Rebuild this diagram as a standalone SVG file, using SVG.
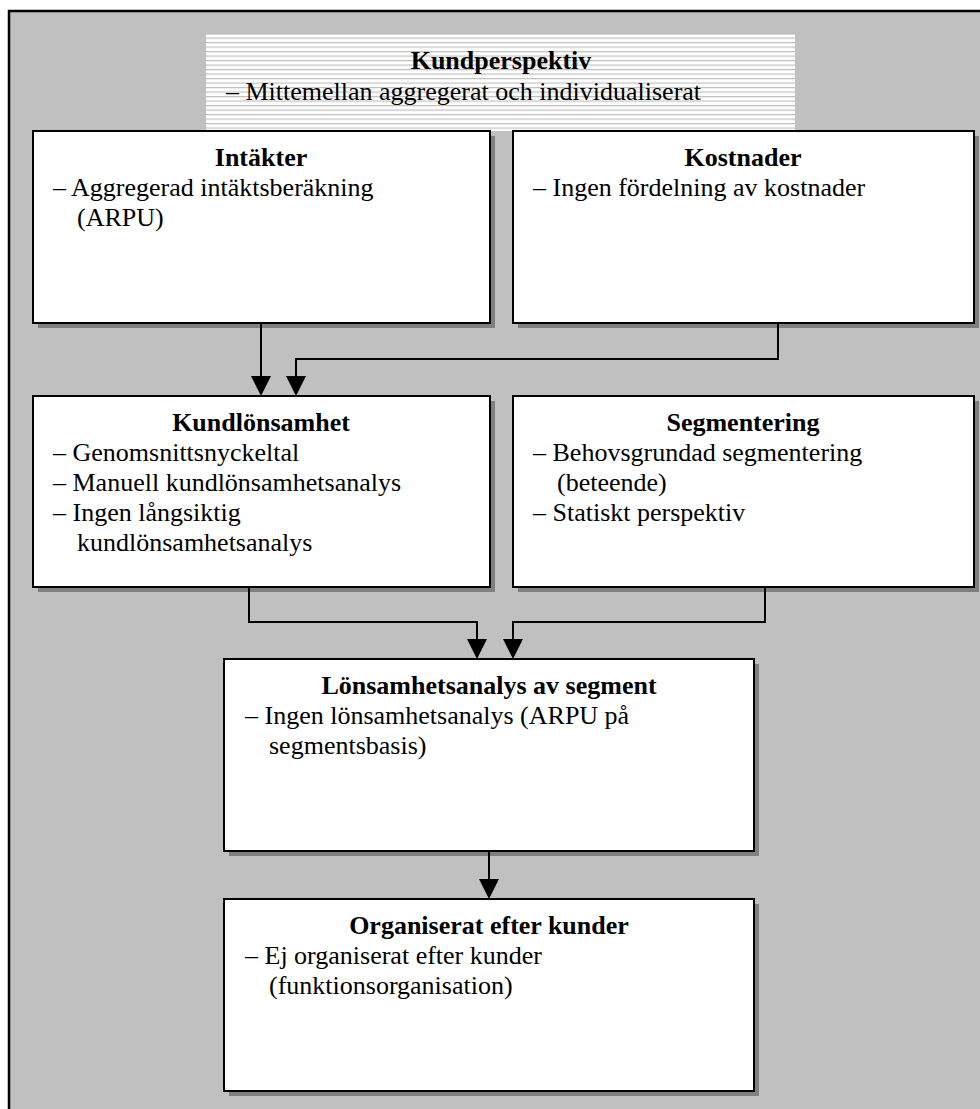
<svg xmlns="http://www.w3.org/2000/svg" width="980" height="1109" viewBox="0 0 980 1109">
  <style>
    .box { fill: #ffffff; stroke: #000000; stroke-width: 2; }
    .shadow { fill: #808080; }
    .title { font-family: "Liberation Serif", "Times New Roman", serif; font-size: 26px; font-weight: bold; text-anchor: middle; fill: #000; }
    .body { font-family: "Liberation Serif", "Times New Roman", serif; font-size: 26px; fill: #000; }
    .wire { fill: none; stroke: #000000; stroke-width: 2; }
  </style>
  <defs>
    <pattern id="stripes" patternUnits="userSpaceOnUse" x="0" y="37.5" width="10" height="4.5">
      <rect x="0" y="0" width="10" height="4.5" fill="#ffffff"/>
      <rect x="0" y="0" width="10" height="1.2" fill="#c0c0c0"/>
    </pattern>
    <marker id="arrow" markerUnits="userSpaceOnUse" markerWidth="20" markerHeight="20" refX="10" refY="20" orient="auto-start-reverse" viewBox="0 0 20 20">
      <path d="M0,0 L20,0 L10,20 Z" fill="#000"/>
    </marker>
  </defs>

  <!-- background frame -->
  <rect x="0" y="0" width="980" height="1109" fill="#ffffff"/>
  <rect x="9" y="11" width="1000" height="1120" fill="#c0c0c0" stroke="#000" stroke-width="2.5"/>

  <!-- header band -->
  <g id="kundperspektiv">
    <rect x="206" y="34.5" width="589" height="96.5" fill="url(#stripes)"/>
    <text class="title" x="501" y="69">Kundperspektiv</text>
    <text class="body" x="226" y="100">– Mittemellan aggregerat och individualiserat</text>
  </g>

  <g id="intakter">
    <rect class="shadow" x="38" y="136" width="457" height="192"/>
    <rect class="box" x="33" y="131" width="457" height="192"/>
    <text class="title" x="261" y="166">Intäkter</text>
    <text class="body" x="53" y="196">– Aggregerad intäktsberäkning</text>
    <text class="body" x="77" y="226">(ARPU)</text>
  </g>

  <g id="kostnader">
    <rect class="shadow" x="518" y="136" width="461" height="192"/>
    <rect class="box" x="513" y="131" width="461" height="192"/>
    <text class="title" x="743" y="166">Kostnader</text>
    <text class="body" x="533" y="196">– Ingen fördelning av kostnader</text>
  </g>

  <g id="kundlonsamhet">
    <rect class="shadow" x="38" y="401" width="457" height="191"/>
    <rect class="box" x="33" y="396" width="457" height="191"/>
    <text class="title" x="261" y="431">Kundlönsamhet</text>
    <text class="body" x="53" y="461">– Genomsnittsnyckeltal</text>
    <text class="body" x="53" y="491">– Manuell kundlönsamhetsanalys</text>
    <text class="body" x="53" y="521">– Ingen långsiktig</text>
    <text class="body" x="77" y="551">kundlönsamhetsanalys</text>
  </g>

  <g id="segmentering">
    <rect class="shadow" x="518" y="401" width="461" height="191"/>
    <rect class="box" x="513" y="396" width="461" height="191"/>
    <text class="title" x="743" y="431">Segmentering</text>
    <text class="body" x="533" y="461">– Behovsgrundad segmentering</text>
    <text class="body" x="557" y="491">(beteende)</text>
    <text class="body" x="533" y="521">– Statiskt perspektiv</text>
  </g>

  <g id="lonsamhetsanalys">
    <rect class="shadow" x="229" y="664" width="530" height="192"/>
    <rect class="box" x="224" y="659" width="530" height="192"/>
    <text class="title" x="489" y="694">Lönsamhetsanalys av segment</text>
    <text class="body" x="245" y="724">– Ingen lönsamhetsanalys (ARPU på</text>
    <text class="body" x="269" y="754">segmentsbasis)</text>
  </g>

  <g id="organiserat">
    <rect class="shadow" x="229" y="904" width="530" height="192"/>
    <rect class="box" x="224" y="899" width="530" height="192"/>
    <text class="title" x="489" y="934">Organiserat efter kunder</text>
    <text class="body" x="245" y="964">– Ej organiserat efter kunder</text>
    <text class="body" x="269" y="994">(funktionsorganisation)</text>
  </g>

  <g id="connectors">
    <path class="wire" d="M261,323 V376" />
    <path d="M251,376 L271,376 L261,396 Z" fill="#000"/>
    <path class="wire" d="M778,323 V359 H296 V376" />
    <path d="M286,376 L306,376 L296,396 Z" fill="#000"/>
    <path class="wire" d="M249,587 V622 H477 V639" />
    <path d="M467,639 L487,639 L477,659 Z" fill="#000"/>
    <path class="wire" d="M765,587 V622 H513 V639" />
    <path d="M503,639 L523,639 L513,659 Z" fill="#000"/>
    <path class="wire" d="M489,851 V879" />
    <path d="M479,879 L499,879 L489,899 Z" fill="#000"/>
  </g>
</svg>
